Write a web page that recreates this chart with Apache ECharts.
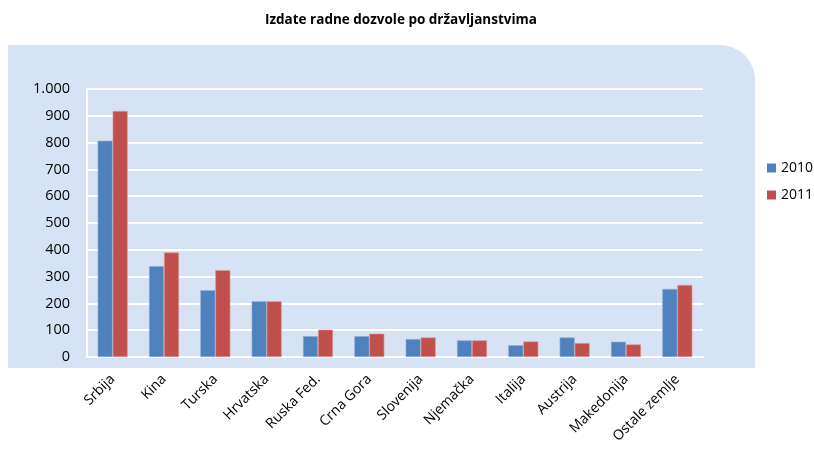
<!DOCTYPE html>
<html>
<head>
<meta charset="utf-8">
<script src="https://cdn.jsdelivr.net/npm/echarts@6/dist/echarts.min.js"></script>
<style>
  html, body { margin: 0; padding: 0; background: #ffffff; }
  #chart { width: 814px; height: 449px; }
</style>
</head>
<body>
<div id="chart"></div>
<script>
// Issued work permits by citizenship, 2010 vs 2011
const categories = ['Srbija', 'Kina', 'Turska', 'Hrvatska', 'Ruska Fed.', 'Crna Gora',
  'Slovenija', 'Njemačka', 'Italija', 'Austrija', 'Makedonija', 'Ostale zemlje'];
const values2010 = [807, 339, 249, 208, 78, 78, 67, 62, 44, 73, 57, 254];
const values2011 = [918, 390, 324, 208, 102, 87, 73, 62, 58, 52, 47, 269];
const seriesNames = ['2010', '2011'];
const yTicks = { min: 0, max: 1000, interval: 100 };

const font = '"Open Sans", "DejaVu Sans", sans-serif';
const chart = echarts.init(document.getElementById('chart'), null, { renderer: 'canvas' });

function fmtThousands(v) {
  return String(v).replace(/\B(?=(\d{3})+(?!\d))/g, '.');
}

chart.setOption({
  animation: false,
  backgroundColor: '#ffffff',
  graphic: [{
    type: 'rect',
    z: -10,
    shape: { x: 8, y: 45, width: 747, height: 323, r: [0, 35, 0, 0] },
    style: { fill: '#d6e3f4' }
  }],
  title: {
    text: 'Izdate radne dozvole po državljanstvima',
    left: 260,
    top: 8,
    textStyle: { fontFamily: font, fontSize: 13.5, fontWeight: 'bold', color: '#000' }
  },
  legend: {
    orient: 'vertical',
    left: 762,
    top: 156,
    itemWidth: 9,
    itemHeight: 9,
    itemGap: 13,
    icon: 'rect',
    itemStyle: { borderWidth: 0 },
    textStyle: { fontFamily: font, fontSize: 14, color: '#000', padding: [0, 0, 0, 0] },
    data: seriesNames
  },
  grid: { left: 87, right: 111, top: 89, bottom: 92 },
  xAxis: {
    type: 'category',
    data: categories,
    axisLine: { show: true, lineStyle: { color: '#ffffff', width: 2 } },
    axisTick: { show: false },
    axisLabel: {
      rotate: 45,
      interval: 0,
      margin: 20,
      fontFamily: font,
      fontSize: 14,
      color: '#000'
    }
  },
  yAxis: {
    type: 'value',
    min: yTicks.min,
    max: yTicks.max,
    interval: yTicks.interval,
    axisLine: { show: true, lineStyle: { color: '#ffffff', width: 2 } },
    axisTick: { show: false },
    splitLine: { show: true, lineStyle: { color: '#ffffff', width: 2 } },
    axisLabel: {
      margin: 17,
      fontFamily: font,
      fontSize: 14.5,
      color: '#000',
      formatter: fmtThousands
    }
  },
  series: [
    {
      name: seriesNames[0],
      type: 'bar',
      data: values2010,
      barWidth: 15,
      barGap: '0%',
      itemStyle: { color: '#4f81bd', borderColor: '#8fb0da', borderWidth: 0.6 }
    },
    {
      name: seriesNames[1],
      type: 'bar',
      data: values2011,
      barWidth: 15,
      barGap: '0%',
      itemStyle: { color: '#c0504d', borderColor: '#e29b99', borderWidth: 0.6 }
    }
  ]
});
</script>
</body>
</html>
